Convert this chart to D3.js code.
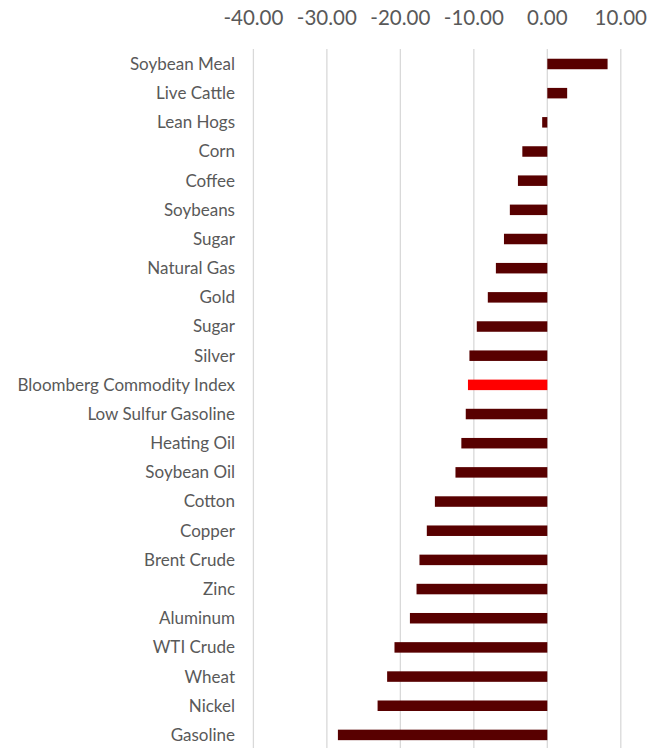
<!DOCTYPE html>
<html><head><meta charset="utf-8">
<script src="https://cdn.jsdelivr.net/npm/d3@7"></script>
<style>body{margin:0;background:#fff;}svg{display:block;}</style>
</head><body>
<div id="chart"></div>
<script>
const categories = ["Soybean Meal","Live Cattle","Lean Hogs","Corn","Coffee","Soybeans","Sugar","Natural Gas","Gold","Sugar ","Silver","Bloomberg Commodity Index","Low Sulfur Gasoline","Heating Oil","Soybean Oil","Cotton","Copper","Brent Crude","Zinc","Aluminum","WTI Crude","Wheat","Nickel","Gasoline"];
const values = [8.2,2.7,-0.7,-3.4,-4.0,-5.1,-5.9,-7.0,-8.1,-9.6,-10.6,-10.8,-11.1,-11.7,-12.5,-15.3,-16.4,-17.4,-17.8,-18.7,-20.8,-21.8,-23.1,-28.5];
const highlight = ["Bloomberg Commodity Index"];
const ticks = [-40,-30,-20,-10,0,10];

const W = 652, H = 748;
const svg = d3.select("#chart").append("svg").attr("width", W).attr("height", H);
const x = d3.scaleLinear().domain([-40,10]).range([253.4,620.8]);
const y = d3.scaleBand().domain(categories).range([49.4,749.5]).paddingInner(0.64).paddingOuter(0.32);

svg.append("g").selectAll("line").data(ticks).join("line")
  .attr("x1", d=>x(d)).attr("x2", d=>x(d)).attr("y1", 49).attr("y2", H)
  .attr("stroke", "#d9d9d9").attr("stroke-width", 1.3);

svg.append("g").selectAll("text").data(ticks).join("text")
  .attr("x", d=>x(d)).attr("y", 24.5).attr("text-anchor","middle")
  .attr("font-family","Lato, 'Open Sans', sans-serif").attr("font-size", 20.5).attr("fill","#595959")
  .text(d=>d3.format(".2f")(d).replace("−","-"));

svg.append("g").selectAll("rect").data(categories).join("rect")
  .attr("x", (d,i)=>x(Math.min(0,values[i])))
  .attr("width", (d,i)=>Math.abs(x(values[i])-x(0)))
  .attr("y", d=>y(d)).attr("height", y.bandwidth())
  .attr("fill", d=>highlight.includes(d) ? "#ff0000" : "#580000");

svg.append("g").selectAll("text").data(categories).join("text")
  .attr("x", 235).attr("y", d=>y(d)+y.bandwidth()/2).attr("dy","0.35em")
  .attr("text-anchor","end")
  .attr("font-family","Lato, 'Open Sans', sans-serif").attr("font-size", 17).attr("fill","#595959")
  .text(d=>d.trim());
</script>
</body></html>
